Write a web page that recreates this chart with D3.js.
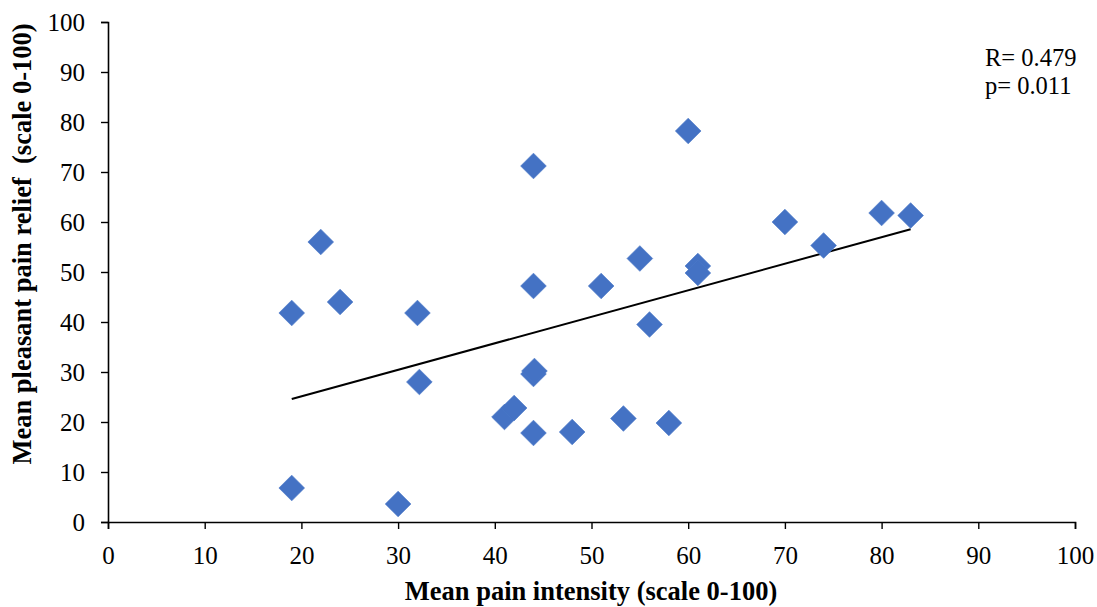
<!DOCTYPE html>
<html>
<head>
<meta charset="utf-8">
<script src="https://cdn.jsdelivr.net/npm/d3@7"></script>
<style>
  html, body { margin: 0; padding: 0; background: #fff; }
  svg { display: block; }
  text { font-family: "Liberation Serif", "Times New Roman", serif; fill: #000; white-space: pre; }
</style>
</head>
<body>
<svg id="chart" width="1097" height="607"></svg>
<script>
// Per-participant means: pain intensity (x) vs. pleasant pain relief (y)
const painIntensity = [19, 19, 22, 24, 30, 32, 32.2, 41, 42, 44, 44, 44.1, 44, 44, 48, 51, 53.3, 55, 56, 58, 60, 61, 61, 70, 74, 80, 83];
const painRelief    = [6.8, 41.8, 56, 44, 3.6, 41.8, 28, 21, 22.8, 17.8, 29.6, 30.2, 47.2, 71.2, 18, 47.2, 20.7, 52.7, 39.5, 19.8, 78.2, 51.2, 49.8, 60, 55.3, 61.8, 61.3];

const xTicks = [0, 10, 20, 30, 40, 50, 60, 70, 80, 90, 100];
const yTicks = [0, 10, 20, 30, 40, 50, 60, 70, 80, 90, 100];
const statLines = ["R= 0.479", "p= 0.011"];
const xTitle = "Mean pain intensity (scale 0-100)";
const yTitle = "Mean pleasant pain relief  (scale 0-100)";

const svg = d3.select("#chart");
const x = d3.scaleLinear().domain([0, 100]).range([108, 1075]);
const y = d3.scaleLinear().domain([0, 100]).range([522, 22]);

// Axes
const xAxis = svg.append("g")
  .attr("transform", `translate(0,${y(0)})`)
  .call(d3.axisBottom(x).tickValues(xTicks).tickSize(7).tickPadding(8).tickFormat(d3.format("d")));
const yAxis = svg.append("g")
  .attr("transform", `translate(${x(0)},0)`)
  .call(d3.axisLeft(y).tickValues(yTicks).tickSize(7).tickPadding(16).tickFormat(d3.format("d")));

[xAxis, yAxis].forEach(g => {
  g.select(".domain").attr("stroke", "#000").attr("stroke-width", 1.6);
  g.selectAll(".tick line").attr("stroke", "#000").attr("stroke-width", 1.4);
  g.selectAll(".tick text")
    .style("font-family", '"Liberation Serif", "Times New Roman", serif')
    .style("font-size", "25px")
    .attr("fill", "#000");
});
xAxis.selectAll(".tick text").attr("y", 42).attr("dy", null);

// Least-squares trend line over the observed x range
const n = painIntensity.length;
const mx = d3.mean(painIntensity), my = d3.mean(painRelief);
let sxy = 0, sxx = 0;
for (let i = 0; i < n; i++) {
  sxy += (painIntensity[i] - mx) * (painRelief[i] - my);
  sxx += (painIntensity[i] - mx) ** 2;
}
const slope = sxy / sxx, intercept = my - slope * mx;
const [xMin, xMax] = d3.extent(painIntensity);
svg.append("line")
  .attr("x1", x(xMin)).attr("y1", y(intercept + slope * xMin))
  .attr("x2", x(xMax)).attr("y2", y(intercept + slope * xMax))
  .attr("stroke", "#000").attr("stroke-width", 2);

// Diamond markers
const diamond = d3.symbol().type(d3.symbolSquare).size(330);
svg.append("g").selectAll("path")
  .data(d3.range(n))
  .join("path")
  .attr("d", diamond)
  .attr("transform", i => `translate(${x(painIntensity[i])},${y(painRelief[i])}) rotate(45)`)
  .attr("fill", "#4472C4")
  .attr("stroke", "#4a78c8")
  .attr("stroke-width", 0.6);

// Correlation annotation
svg.append("g").selectAll("text")
  .data(statLines)
  .join("text")
  .attr("x", 985)
  .attr("y", (d, i) => 66 + i * 28)
  .style("font-size", "24.5px")
  .text(d => d);

// Axis titles
svg.append("text")
  .attr("x", 591).attr("y", 600)
  .attr("text-anchor", "middle")
  .style("font-size", "26.5px").style("font-weight", "bold")
  .text(xTitle);
svg.append("text")
  .attr("transform", `translate(31,${244}) rotate(-90)`)
  .attr("text-anchor", "middle")
  .style("font-size", "26.5px").style("font-weight", "bold")
  .text(yTitle);
</script>
</body>
</html>
